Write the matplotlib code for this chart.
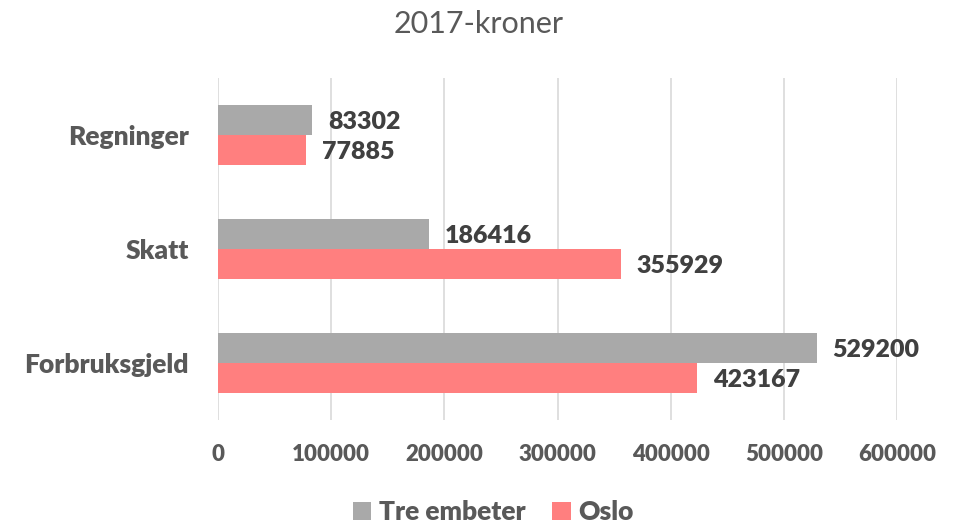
import matplotlib.pyplot as plt
import numpy as np

categories = ["Regninger", "Skatt", "Forbruksgjeld"]
tre_embeter = [83302, 186416, 529200]
oslo = [77885, 355929, 423167]
series_names = ["Tre embeter", "Oslo"]
x_ticks = [0, 100000, 200000, 300000, 400000, 500000, 600000]

grey = "#A9A9A9"
red = "#FF7F7F"
text_dark = "#404040"
text_mid = "#595959"

plt.rcParams['font.family'] = ['Lato', 'DejaVu Sans']
wt = 'heavy'

fig = plt.figure(figsize=(9.58, 5.27), dpi=100)
ax = fig.add_axes([0.2276, 0.203, 0.7087, 0.649])

y = np.arange(len(categories))
h = 0.26
b1 = ax.barh(y - h / 2, tre_embeter, h, color=grey, label=series_names[0], zorder=3)
b2 = ax.barh(y + h / 2, oslo, h, color=red, label=series_names[1], zorder=3)

# value labels to the right of each bar
for bars, vals in [(b1, tre_embeter), (b2, oslo)]:
    for bar, v in zip(bars, vals):
        ax.text(v + 14000, bar.get_y() + bar.get_height() / 2 + 0.02, f"{v}",
                ha='left', va='center', fontsize=18, fontweight=wt, color=text_dark)

ax.set_xlim(0, 600000)
ax.set_ylim(2.5, -0.5)
ax.set_xticks(x_ticks)
ax.set_xticklabels([str(t) for t in x_ticks], fontsize=16, fontweight=wt, color=text_mid)
ax.set_yticks(y)
ax.set_yticklabels(categories, fontsize=19, fontweight=wt, color=text_mid)
ax.tick_params(axis='both', length=0)
ax.tick_params(axis='x', pad=17)
ax.tick_params(axis='y', pad=21)
ax.grid(axis='x', color='#D9D9D9', linewidth=1.2, zorder=0)
for s in ax.spines.values():
    s.set_visible(False)

fig.text(0.5, 0.955, "2017-kroner", ha='center', va='center', fontsize=22, color=text_mid)

leg = fig.legend(loc='center', bbox_to_anchor=(0.515, 0.028), ncol=2, frameon=False,
                 handlelength=0.7, handleheight=0.7, handletextpad=0.3, columnspacing=1.0,
                 prop={'size': 19, 'weight': wt})
for t in leg.get_texts():
    t.set_color(text_mid)

fig.savefig("out.png", dpi=100)
